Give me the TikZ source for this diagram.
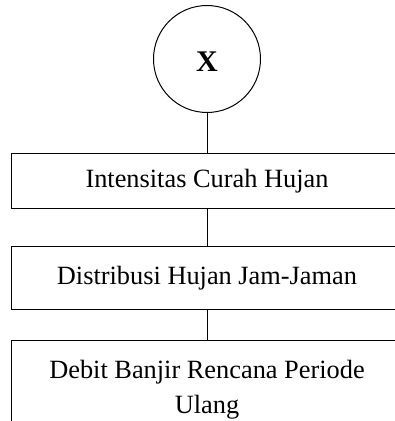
\documentclass[tikz,border=0pt]{standalone}
\usepackage{fontspec}
\setmainfont{Liberation Serif}
\usepackage{tikz}

\begin{document}
\begin{tikzpicture}[x=1pt,y=1pt,line width=1pt]
	\useasboundingbox (0,0) rectangle (395,421);
	
	\tikzstyle{conn}=[draw,shape=circle,inner sep=0pt,minimum size=107pt,text height=26pt,text depth=0pt,font=\fontsize{30}{34}\selectfont\bfseries]
	
	\tikzstyle{proc}=[draw,shape=rectangle,minimum width=392pt,inner sep=0pt,font=\fontsize{26.35}{35}\selectfont]
	
	\node[conn](x) at (207,362){X};
	
	\node[proc,minimum height=55pt](intensitas) at (207,239.5){Intensitas Curah Hujan};
	\node[proc,minimum height=63pt](distribusi) at (207,142.5){Distribusi Hujan Jam-Jaman};
	\node[proc,anchor=north,text width=392pt,align=flush center,inner ysep=20pt,text depth=60pt](debit) at (207,81){Debit Banjir Rencana Periode\\Ulang};
	
	\draw (x) -- (intensitas);
	\draw (intensitas) -- (distribusi);
	\draw (distribusi) -- (debit);
	
\end{tikzpicture}
\end{document}
